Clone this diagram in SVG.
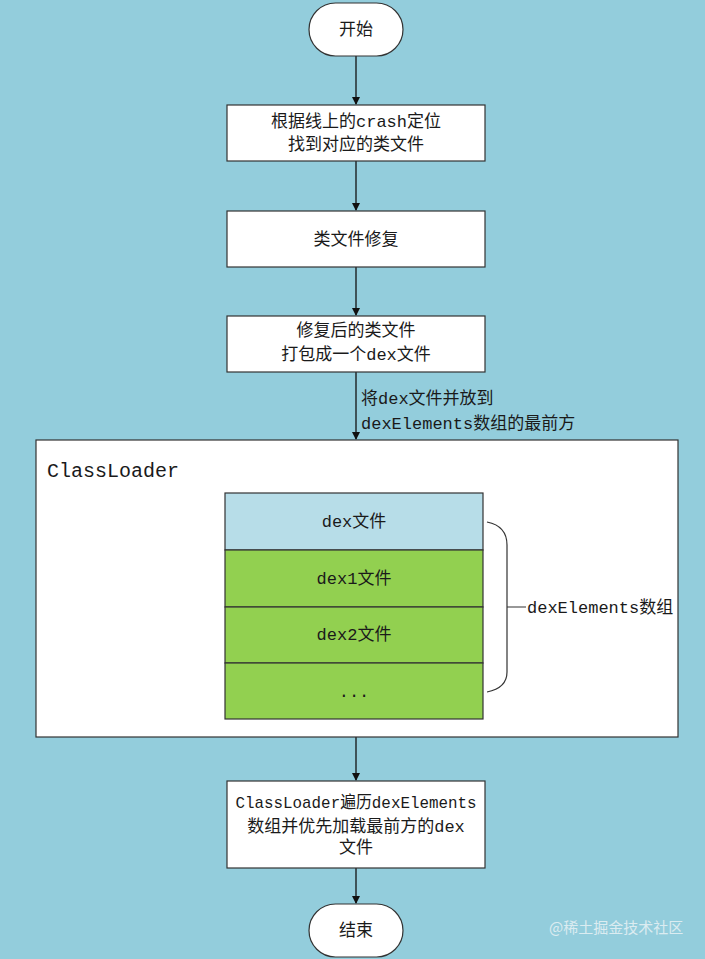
<svg xmlns="http://www.w3.org/2000/svg" width="705" height="959" viewBox="0 0 705 959">
<style>
.t{font-family:"Liberation Mono","Noto Sans CJK SC",monospace;font-size:17px;fill:#1a1a1a;text-anchor:middle}
.box{fill:#fff;stroke:#333;stroke-width:1.2}
.conn{stroke:#111;stroke-width:1.3;fill:none}
</style>
<defs>
<marker id="ah" markerWidth="8" markerHeight="8" refX="7" refY="4" orient="auto" markerUnits="userSpaceOnUse">
<path d="M0,0 L8,4 L0,8 Z" fill="#111"/>
</marker>
</defs>
<rect width="705" height="959" fill="#93CDDC"/>
<g id="connectors">
<line class="conn" x1="356" y1="56" x2="356" y2="104" marker-end="url(#ah)"/>
<line class="conn" x1="356" y1="161" x2="356" y2="210" marker-end="url(#ah)"/>
<line class="conn" x1="356" y1="267" x2="356" y2="315" marker-end="url(#ah)"/>
<line class="conn" x1="356" y1="372" x2="356" y2="439" marker-end="url(#ah)"/>
<text class="t" x="361" y="404" style="text-anchor:start">将dex文件并放到</text>
<text class="t" x="361" y="429" style="text-anchor:start">dexElements数组的最前方</text>
<line class="conn" x1="356" y1="737" x2="356" y2="780" marker-end="url(#ah)"/>
<line class="conn" x1="356" y1="868" x2="356" y2="903" marker-end="url(#ah)"/>
</g>
<g id="start">
<rect class="box" x="309" y="3" width="94" height="53" rx="26.5"/>
<text class="t" x="356" y="35">开始</text>
</g>
<g id="locate">
<rect class="box" x="227" y="105" width="258" height="56"/>
<text class="t" x="356" y="127">根据线上的crash定位</text>
<text class="t" x="356" y="150">找到对应的类文件</text>
</g>
<g id="fix">
<rect class="box" x="227" y="211" width="258" height="56"/>
<text class="t" x="356" y="245">类文件修复</text>
</g>
<g id="pack">
<rect class="box" x="227" y="316" width="258" height="56"/>
<text class="t" x="356" y="336">修复后的类文件</text>
<text class="t" x="356" y="360">打包成一个dex文件</text>
</g>
<g id="classloader">
<rect class="box" x="36" y="440" width="642" height="297"/>
<text class="t" x="47" y="477" style="text-anchor:start;font-size:20px">ClassLoader</text>
</g>
<g id="dex0">
<rect x="225" y="493" width="258" height="57" fill="#B7DDE8" stroke="#333" stroke-width="1.2"/>
<text class="t" x="354" y="527">dex文件</text>
</g>
<g id="dex1">
<rect x="225" y="550" width="258" height="57" fill="#92D050" stroke="#333" stroke-width="1.2"/>
<text class="t" x="354" y="584">dex1文件</text>
</g>
<g id="dex2">
<rect x="225" y="607" width="258" height="56" fill="#92D050" stroke="#333" stroke-width="1.2"/>
<text class="t" x="354" y="640">dex2文件</text>
</g>
<g id="dexmore">
<rect x="225" y="663" width="258" height="56" fill="#92D050" stroke="#333" stroke-width="1.2"/>
<text class="t" x="354" y="697">...</text>
</g>
<g id="brace">
<path d="M487,522 Q507,526 507,545 L507,672 Q507,688 487,692 M507,607 L526,607" fill="none" stroke="#333" stroke-width="1.2"/>
<text class="t" x="527" y="613" style="text-anchor:start">dexElements数组</text>
</g>
<g id="load">
<rect class="box" x="227" y="781" width="258" height="87"/>
<text class="t" x="356" y="808" textLength="241" lengthAdjust="spacingAndGlyphs">ClassLoader遍历dexElements</text>
<text class="t" x="356" y="832">数组并优先加载最前方的dex</text>
<text class="t" x="356" y="853">文件</text>
</g>
<g id="end">
<rect class="box" x="309" y="904" width="94" height="53" rx="26.5"/>
<text class="t" x="356" y="936">结束</text>
</g>
<text x="549" y="933" style="font-family:'Noto Sans CJK SC',sans-serif;font-size:15px;fill:#e8f2f5;opacity:0.85">@稀土掘金技术社区</text>
</svg>
